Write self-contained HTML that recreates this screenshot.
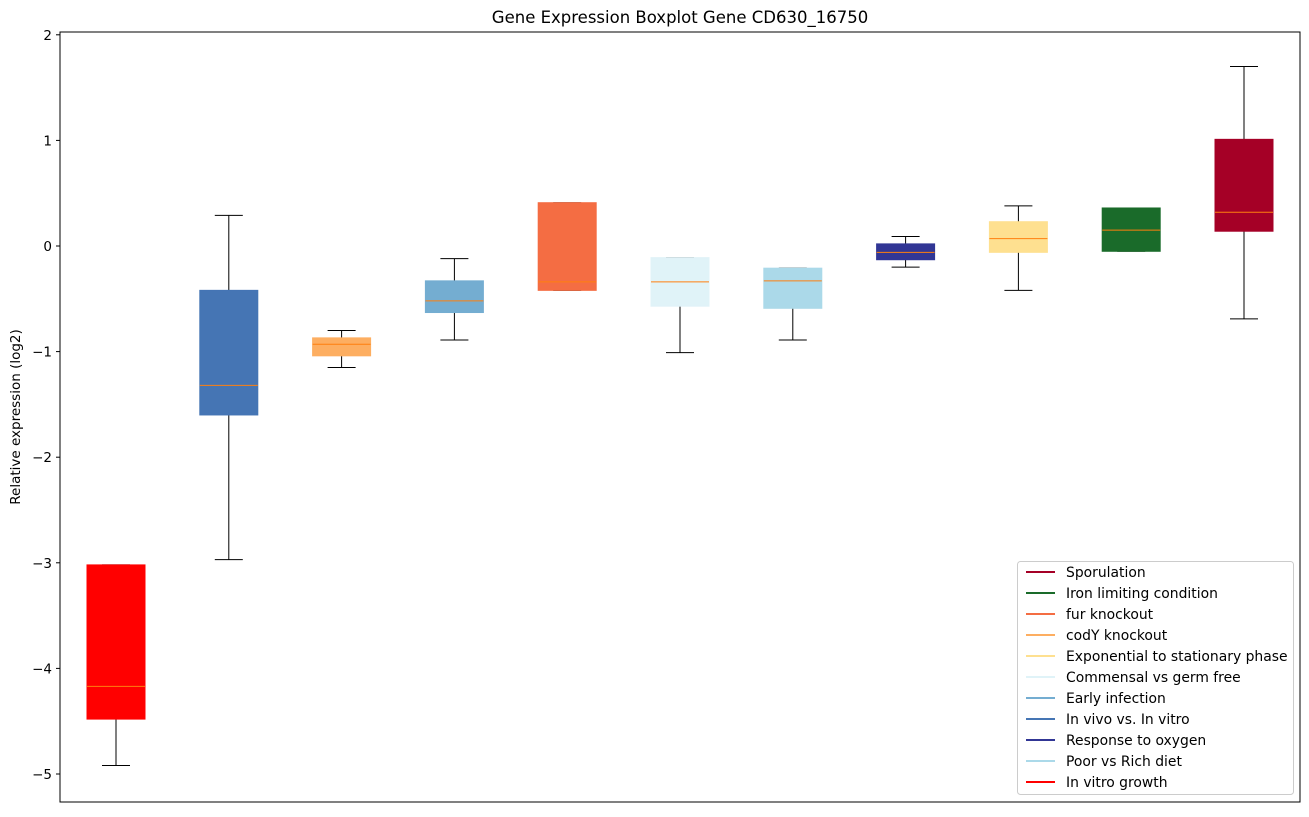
<!DOCTYPE html>
<html><head><meta charset="utf-8"><style>
body{margin:0;background:#fff;}
svg text{font-family:"DejaVu Sans","Liberation Sans",sans-serif;fill:#000;}
</style></head><body>
<svg width="1309" height="812" xmlns="http://www.w3.org/2000/svg">
<rect width="1309" height="812" fill="#fff"/>
<text x="680" y="23" font-size="16.5" text-anchor="middle">Gene Expression Boxplot Gene CD630_16750</text>
<g id="plot"></g>
<rect x="60" y="32" width="1240" height="770" fill="none" stroke="#000" stroke-width="1"/>
<text transform="translate(20,417) rotate(-90)" font-size="13.5" text-anchor="middle">Relative expression (log2)</text>
<g id="yt" font-size="13.5"></g>
<g id="leg"></g>
</svg>
<script>
const Y=v=>246-105.6*v;
const NS="http://www.w3.org/2000/svg";
function el(p,t,a,txt){const e=document.createElementNS(NS,t);for(const k in a)e.setAttribute(k,a[k]);if(txt!==undefined)e.textContent=txt;p.appendChild(e);return e;}
const yt=document.getElementById('yt');
for(let v=2;v>=-5;v--){const y=Y(v);el(yt,'line',{x1:56,x2:60,y1:y,y2:y,stroke:'#000'});el(yt,'text',{x:52,y:y+5,'text-anchor':'end'},v<0?'\u2212'+(-v):''+v);}
const data=[
['#ff0000',-3.02,-4.48,-4.17,-3.02,-4.92],
['#4575b4',-0.42,-1.6,-1.32,0.29,-2.97],
['#fdae61',-0.87,-1.04,-0.93,-0.8,-1.15],
['#74add1',-0.33,-0.63,-0.52,-0.12,-0.89],
['#f46d43',0.41,-0.42,-0.34,0.41,-0.42],
['#e0f3f8',-0.11,-0.57,-0.34,-0.11,-1.01],
['#abd9e9',-0.21,-0.59,-0.33,-0.21,-0.89],
['#313695',0.02,-0.13,-0.06,0.09,-0.2],
['#fee090',0.23,-0.06,0.07,0.38,-0.42],
['#1a6b2a',0.36,-0.05,0.15,0.36,-0.05],
['#a50026',1.01,0.14,0.32,1.7,-0.69]];
const p=document.getElementById('plot');
data.forEach((d,i)=>{const cx=116+i*112.8,w=58;
const [c,q3,q1,m,hi,lo]=d;
el(p,'line',{x1:cx,x2:cx,y1:Y(q3),y2:Y(hi),stroke:'#000'});
el(p,'line',{x1:cx,x2:cx,y1:Y(q1),y2:Y(lo),stroke:'#000'});
el(p,'line',{x1:cx-14,x2:cx+14,y1:Y(hi),y2:Y(hi),stroke:'#000'});
el(p,'line',{x1:cx-14,x2:cx+14,y1:Y(lo),y2:Y(lo),stroke:'#000'});
el(p,'rect',{x:cx-w/2,y:Y(q3),width:w,height:Y(q1)-Y(q3),fill:c,stroke:c});
el(p,'line',{x1:cx-w/2,x2:cx+w/2,y1:Y(m),y2:Y(m),stroke:'#ff7f0e'});
});
const lg=document.getElementById('leg');
el(lg,'rect',{x:1017.5,y:561.5,width:276,height:233,rx:3,fill:'#fff','fill-opacity':0.8,stroke:'#ccc'});
const L=[['#a50026','Sporulation'],['#1a6b2a','Iron limiting condition'],['#f46d43','fur knockout'],['#fdae61','codY knockout'],['#fee090','Exponential to stationary phase'],['#e0f3f8','Commensal vs germ free'],['#74add1','Early infection'],['#4575b4','In vivo vs. In vitro'],['#313695','Response to oxygen'],['#abd9e9','Poor vs Rich diet'],['#ff0000','In vitro growth']];
L.forEach((l,i)=>{const y=572+i*21;el(lg,'line',{x1:1026,x2:1055,y1:y,y2:y,stroke:l[0],'stroke-width':2});el(lg,'text',{x:1066,y:y+5,'font-size':13.9},l[1]);});
</script>
</body></html>
